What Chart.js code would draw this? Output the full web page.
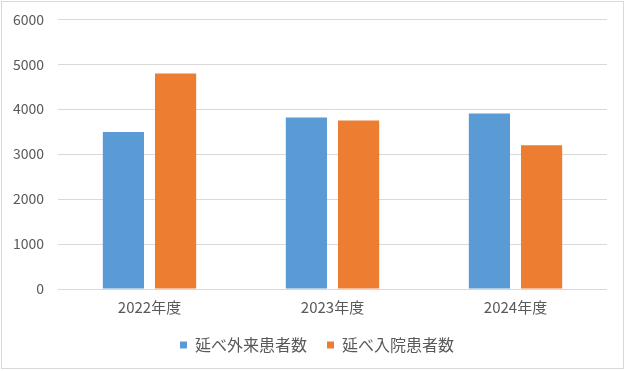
<!DOCTYPE html>
<html>
<head>
<meta charset="utf-8">
<script src="https://cdn.jsdelivr.net/npm/chart.js@4/dist/chart.umd.min.js"></script>
<style>
  html, body { margin: 0; padding: 0; background: #fff; }
  #wrap { width: 626px; height: 371px; }
</style>
</head>
<body>
<div id="wrap"><canvas id="patientChart" width="626" height="371"></canvas></div>
<script>
// 年度ごとの延べ患者数
const years = ["2022年度", "2023年度", "2024年度"];
const outpatients = [3490, 3815, 3905];
const inpatients = [4795, 3750, 3195];
const yTicks = [0, 1000, 2000, 3000, 4000, 5000, 6000];

const textColor = "#595959";
const gridColor = "#d9d9d9";
const jpFont = "'Noto Sans CJK JP', 'Noto Sans', sans-serif";

// 外枠
const frame = {
    id: "frame",
    afterDraw(chart) {
        const ctx = chart.ctx;
        ctx.save();
        ctx.strokeStyle = gridColor;
        ctx.lineWidth = 1;
        ctx.strokeRect(1.5, 1.5, 622, 367);
        ctx.restore();
    }
};

// 凡例を少し右へ寄せる
const legendShift = {
    id: "legendShift",
    afterLayout(chart) {
        if (chart.legend) chart.legend.left += 27;
    }
};

const ctx = document.getElementById("patientChart").getContext("2d");
new Chart(ctx, {
    type: "bar",
    data: {
        labels: years,
        datasets: [
            {
                label: "延べ外来患者数",
                data: outpatients,
                backgroundColor: "#5b9bd5"
            },
            {
                label: "延べ入院患者数",
                data: inpatients,
                backgroundColor: "#ed7d31"
            }
        ]
    },
    options: {
        responsive: false,
        animation: false,
        categoryPercentage: 0.57,
        barPercentage: 0.79,
        layout: {
            padding: { top: 8, right: 19, bottom: 8, left: 0 }
        },
        plugins: {
            legend: {
                position: "bottom",
                labels: {
                    color: textColor,
                    font: { family: jpFont, size: 16 },
                    boxWidth: 7,
                    boxHeight: 7,
                    padding: 20
                }
            },
            tooltip: { enabled: false }
        },
        scales: {
            x: {
                grid: { display: false },
                border: { display: false },
                ticks: {
                    color: textColor,
                    font: { family: jpFont, size: 15 },
                    padding: 1
                }
            },
            y: {
                min: 0,
                max: 6000,
                afterBuildTicks(axis) {
                    axis.ticks = yTicks.map(v => ({ value: v }));
                },
                afterFit(axis) {
                    axis.width = 58;
                },
                grid: { color: gridColor, drawTicks: false },
                border: { display: false },
                ticks: {
                    color: textColor,
                    font: { family: jpFont, size: 14, lineHeight: 0.75 },
                    padding: 14,
                    callback: v => String(v)
                }
            }
        }
    },
    plugins: [frame, legendShift]
});
</script>
</body>
</html>
